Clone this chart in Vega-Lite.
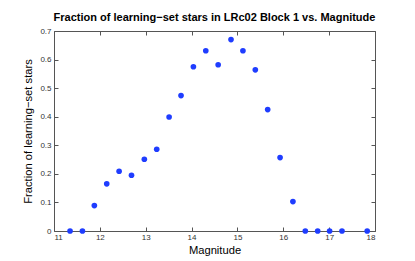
{
  "$schema": "https://vega.github.io/schema/vega-lite/v6.json",
  "width": 321,
  "height": 200,
  "autosize": {"type": "none"},
  "padding": {"left": 54, "top": 31, "right": 40, "bottom": 30},
  "background": "white",
  "title": {
    "text": "Fraction of learning−set stars in LRc02 Block 1 vs. Magnitude",
    "font": "Liberation Sans",
    "fontSize": 11,
    "fontWeight": "bold",
    "color": "black",
    "offset": 4
  },
  "config": {
    "view": {"stroke": "#555555", "strokeWidth": 1},
    "axis": {
      "grid": false,
      "domain": false,
      "tickColor": "#555555",
      "tickSize": -4,
      "labelFont": "Liberation Sans",
      "labelFontSize": 8,
      "labelColor": "#333333",
      "titleFont": "Liberation Sans",
      "titleFontSize": 11.2,
      "titleFontWeight": "normal",
      "titleColor": "black"
    }
  },
  "data": {
    "values": [
      {"mag": 11.35, "frac": 0},
      {"mag": 11.62, "frac": 0},
      {"mag": 11.88, "frac": 0.089},
      {"mag": 12.15, "frac": 0.165},
      {"mag": 12.42, "frac": 0.209},
      {"mag": 12.69, "frac": 0.195},
      {"mag": 12.97, "frac": 0.251},
      {"mag": 13.24, "frac": 0.286},
      {"mag": 13.51, "frac": 0.399},
      {"mag": 13.77, "frac": 0.474},
      {"mag": 14.04, "frac": 0.575},
      {"mag": 14.31, "frac": 0.631},
      {"mag": 14.58, "frac": 0.582},
      {"mag": 14.86, "frac": 0.670},
      {"mag": 15.12, "frac": 0.631},
      {"mag": 15.39, "frac": 0.564},
      {"mag": 15.66, "frac": 0.425},
      {"mag": 15.93, "frac": 0.257},
      {"mag": 16.21, "frac": 0.103},
      {"mag": 16.48, "frac": 0},
      {"mag": 16.75, "frac": 0},
      {"mag": 17.01, "frac": 0},
      {"mag": 17.28, "frac": 0},
      {"mag": 17.83, "frac": 0}
    ]
  },
  "layer": [
    {
      "mark": {"type": "point", "filled": true, "size": 32, "opacity": 1, "color": "#1f3dff"},
      "encoding": {
        "x": {
          "field": "mag", "type": "quantitative",
          "scale": {"domain": [11, 18], "nice": false, "zero": false},
          "axis": {"title": "Magnitude", "values": [11, 12, 13, 14, 15, 16, 17, 18], "format": "d", "labelPadding": 6, "titlePadding": 3, "orient": "bottom"}
        },
        "y": {
          "field": "frac", "type": "quantitative",
          "scale": {"domain": [0, 0.7], "nice": false},
          "axis": {"title": "Fraction of learning−set stars", "values": [0, 0.1, 0.2, 0.3, 0.4, 0.5, 0.6, 0.7], "format": "~g", "labelPadding": 7, "titlePadding": 6, "orient": "left"}
        }
      }
    },
    {
      "mark": {"type": "point", "opacity": 0},
      "encoding": {
        "x": {
          "field": "mag", "type": "quantitative",
          "scale": {"domain": [11, 18], "nice": false, "zero": false},
          "axis": {"title": null, "values": [11, 12, 13, 14, 15, 16, 17, 18], "labels": false, "orient": "top"}
        },
        "y": {
          "field": "frac", "type": "quantitative",
          "scale": {"domain": [0, 0.7], "nice": false},
          "axis": {"title": null, "values": [0, 0.1, 0.2, 0.3, 0.4, 0.5, 0.6, 0.7], "labels": false, "orient": "right"}
        }
      }
    }
  ],
  "resolve": {"axis": {"x": "independent", "y": "independent"}}
}
